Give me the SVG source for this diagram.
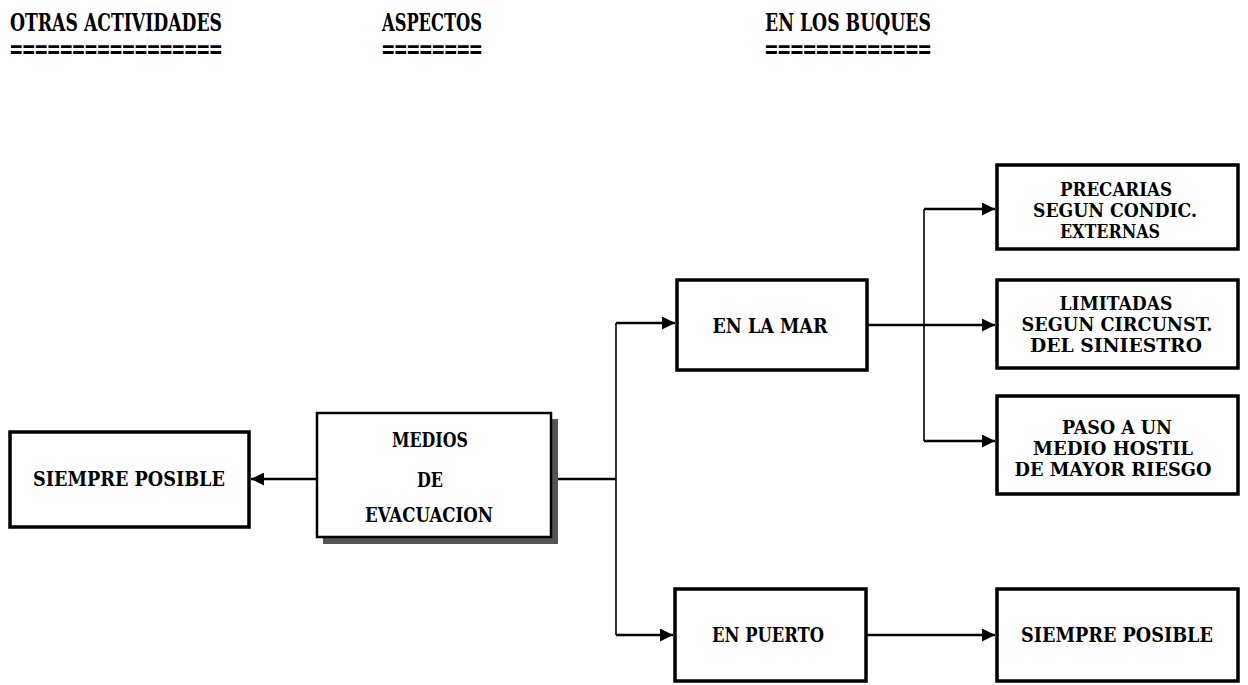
<svg xmlns="http://www.w3.org/2000/svg" width="1248" height="685" viewBox="0 0 1248 685">
<style>
.hdr{font-family:"DejaVu Serif Condensed","DejaVu Serif",serif;font-weight:bold;font-size:25px;fill:#000}
.eq{font-family:"DejaVu Sans Mono",monospace;font-weight:bold;font-size:24px;fill:#000}
.box{fill:#fff;stroke:#000;stroke-width:3.5}
.t{font-family:"DejaVu Serif","Liberation Serif",serif;font-weight:bold;font-size:20px;fill:#000;text-anchor:middle}
.t2{font-family:"DejaVu Serif Condensed","DejaVu Serif",serif;font-weight:bold;font-size:18px;fill:#000;text-anchor:middle}
.h{fill:none;stroke:#000;stroke-width:2.5}
.v{fill:none;stroke:#000;stroke-width:1.6}
</style>
<defs>
<marker id="ah" viewBox="0 0 10 10" refX="10" refY="5" markerWidth="13" markerHeight="13" markerUnits="userSpaceOnUse" orient="auto">
<path d="M0,0 L10,5 L0,10 z" fill="#000"/>
</marker>
</defs>
<rect width="1248" height="685" fill="#fff"/>
<g id="headers">
<text class="hdr" x="10" y="31" textLength="212" lengthAdjust="spacingAndGlyphs">OTRAS ACTIVIDADES</text>
<text class="eq" x="10" y="58" textLength="212" lengthAdjust="spacingAndGlyphs">=================</text>
<text class="hdr" x="382" y="31" textLength="100" lengthAdjust="spacingAndGlyphs">ASPECTOS</text>
<text class="eq" x="382" y="58" textLength="100" lengthAdjust="spacingAndGlyphs">========</text>
<text class="hdr" x="765" y="31" textLength="166" lengthAdjust="spacingAndGlyphs">EN LOS BUQUES</text>
<text class="eq" x="765" y="58" textLength="166" lengthAdjust="spacingAndGlyphs">=============</text>
</g>
<g id="connectors">
<path class="h" d="M317,479 H251" marker-end="url(#ah)"/>
<path class="h" d="M558,479 H616"/>
<path class="v" d="M616,323 V635"/>
<path class="h" d="M616,323 H675" marker-end="url(#ah)"/>
<path class="h" d="M616,635 H673" marker-end="url(#ah)"/>
<path class="h" d="M867,325 H995" marker-end="url(#ah)"/>
<path class="v" d="M924,209 V441"/>
<path class="h" d="M924,209 H995" marker-end="url(#ah)"/>
<path class="h" d="M924,441 H995" marker-end="url(#ah)"/>
<path class="h" d="M866,635 H995" marker-end="url(#ah)"/>
</g>
<g id="n-siempre-left">
<rect class="box" x="10" y="432" width="239" height="95"/>
<text class="t" x="129" y="486" textLength="192" lengthAdjust="spacingAndGlyphs">SIEMPRE POSIBLE</text>
</g>
<g id="n-medios">
<rect x="323" y="419" width="235" height="125" fill="#555"/>
<rect x="317" y="413" width="234" height="124" fill="#fff" stroke="#000" stroke-width="2.5"/>
<text class="t" x="430" y="447" textLength="76" lengthAdjust="spacingAndGlyphs">MEDIOS</text>
<text class="t" x="430" y="487" textLength="26" lengthAdjust="spacingAndGlyphs">DE</text>
<text class="t" x="429" y="522" textLength="128" lengthAdjust="spacingAndGlyphs">EVACUACION</text>
</g>
<g id="n-mar">
<rect class="box" x="677" y="280" width="190" height="90"/>
<text class="t" x="770" y="333" textLength="115" lengthAdjust="spacingAndGlyphs">EN LA MAR</text>
</g>
<g id="n-puerto">
<rect class="box" x="675" y="589" width="191" height="92"/>
<text class="t" x="768" y="642" textLength="112" lengthAdjust="spacingAndGlyphs">EN PUERTO</text>
</g>
<g id="n-precarias">
<rect class="box" x="997" y="165" width="241" height="84"/>
<text class="t2" x="1116" y="196" textLength="112" lengthAdjust="spacingAndGlyphs">PRECARIAS</text>
<text class="t2" x="1115" y="217" textLength="164" lengthAdjust="spacingAndGlyphs">SEGUN CONDIC.</text>
<text class="t2" x="1110" y="238" textLength="100" lengthAdjust="spacingAndGlyphs">EXTERNAS</text>
</g>
<g id="n-limitadas">
<rect class="box" x="997" y="280" width="241" height="88"/>
<text class="t2" x="1116" y="310" textLength="113" lengthAdjust="spacingAndGlyphs">LIMITADAS</text>
<text class="t2" x="1117" y="331" textLength="191" lengthAdjust="spacingAndGlyphs">SEGUN CIRCUNST.</text>
<text class="t2" x="1116" y="352" textLength="172" lengthAdjust="spacingAndGlyphs">DEL SINIESTRO</text>
</g>
<g id="n-paso">
<rect class="box" x="997" y="396" width="241" height="98"/>
<text class="t2" x="1117" y="434" textLength="110" lengthAdjust="spacingAndGlyphs">PASO A UN</text>
<text class="t2" x="1113" y="455" textLength="160" lengthAdjust="spacingAndGlyphs">MEDIO HOSTIL</text>
<text class="t2" x="1113" y="476" textLength="197" lengthAdjust="spacingAndGlyphs">DE MAYOR RIESGO</text>
</g>
<g id="n-siempre-right">
<rect class="box" x="997" y="589" width="241" height="92"/>
<text class="t" x="1117" y="642" textLength="192" lengthAdjust="spacingAndGlyphs">SIEMPRE POSIBLE</text>
</g>
</svg>
